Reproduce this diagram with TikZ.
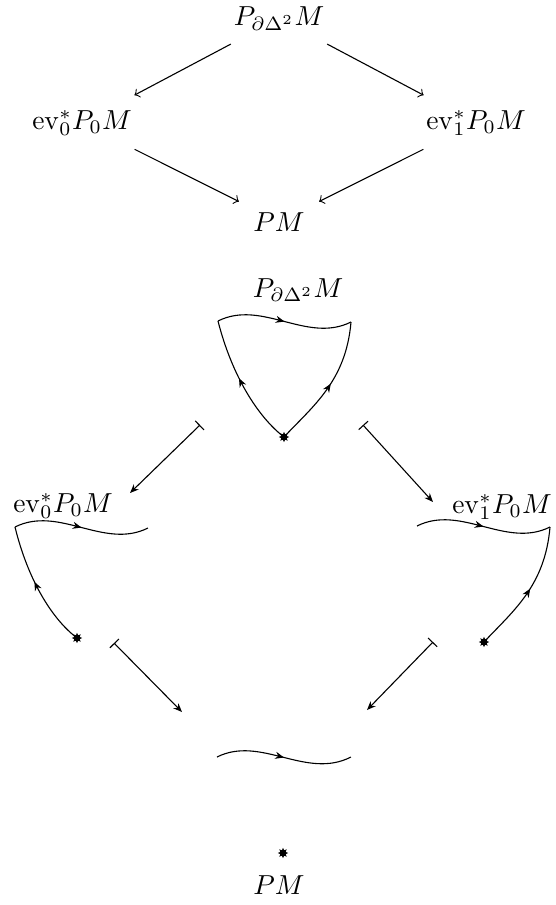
\documentclass[tikz,border=0pt]{standalone}
\usetikzlibrary{arrows.meta,decorations.markings,shapes.geometric}
\begin{document}
\begin{tikzpicture}[x=0.3636pt,y=-0.3636pt,
  lbl/.style={anchor=base,inner sep=0pt},
  cdarrow/.style={-to,line width=0.4pt},
  maparrow/.style={{Bar[width=4.6pt]}-{Stealth[length=3.2pt,width=2.6pt]},line width=0.4pt},
  midarrow/.style={decoration={markings,mark=at position #1 with {\arrow{Stealth[length=3.2pt,width=2.6pt]}}},postaction={decorate}},
  curve/.style={line width=0.4pt},
  basept/.style={star,star points=8,star point ratio=1.8,fill,draw=none,inner sep=0pt,minimum size=3.8pt}
]
\useasboundingbox (0,0) rectangle (555,905);

% ---------- upper commutative square ----------
\node[lbl] (A) at (279,25.5) {$P_{\partial\Delta^2}M$};
\node[lbl] (B) at (82,129) {$\mathrm{ev}_0^*P_0M$};
\node[lbl] (C) at (476,129) {$\mathrm{ev}_1^*P_0M$};
\node[lbl] (D) at (279,231) {$PM$};
\draw[cdarrow,shorten <=10.2pt,shorten >=11.1pt] (A) -- (B);
\draw[cdarrow,shorten <=10.2pt,shorten >=11.1pt] (A) -- (C);
\draw[cdarrow,shorten <=10.5pt,shorten >=8.2pt] (B) -- (D);
\draw[cdarrow,shorten <=10.5pt,shorten >=8.2pt] (C) -- (D);

% ---------- lower pictured square ----------
\node[lbl] (A2) at (298,297) {$P_{\partial\Delta^2}M$};
\node[lbl] (B2) at (63,512) {$\mathrm{ev}_0^*P_0M$};
\node[lbl] (C2) at (502,513) {$\mathrm{ev}_1^*P_0M$};
\node[lbl] (D2) at (279,894) {$PM$};

% top cell: the full boundary of the 2-simplex
\begin{scope}[shift={(218,321)}]
  \coordinate (tL) at (0,0);
  \coordinate (tR) at (133,1);
  \node[basept] (tS) at (66,116) {};
  \draw[curve,midarrow=0.5] (tL) .. controls (44,-22) and (89,23) .. (tR);
  \draw[curve,midarrow=0.55] (tS.center) .. controls (40,96) and (14,55) .. (tL);
  \draw[curve,midarrow=0.52] (tS.center) .. controls (95,85) and (128,60) .. (tR);
\end{scope}

% left cell
\begin{scope}[shift={(15,527)}]
  \coordinate (lL) at (0,0);
  \coordinate (lR) at (133,1);
  \node[basept] (lS) at (62,111) {};
  \draw[curve,midarrow=0.5] (lL) .. controls (44,-22) and (89,23) .. (lR);
  \draw[curve,midarrow=0.55] (lS.center) .. controls (37,92) and (13,53) .. (lL);
\end{scope}

% right cell
\begin{scope}[shift={(417,526)}]
  \coordinate (rL) at (0,0);
  \coordinate (rR) at (133,1);
  \node[basept] (rS) at (67,116) {};
  \draw[curve,midarrow=0.5] (rL) .. controls (44,-22) and (89,23) .. (rR);
  \draw[curve,midarrow=0.52] (rS.center) .. controls (96,85) and (128,60) .. (rR);
\end{scope}

% bottom cell
\begin{scope}[shift={(217,757)}]
  \coordinate (bL) at (0,0);
  \coordinate (bR) at (134,0);
  \draw[curve,midarrow=0.5] (bL) .. controls (44,-22) and (89,23) .. (bR);
\end{scope}
\node[basept] (bS) at (283,853) {};

% maps-to arrows
\coordinate (m1s) at (200,425); \coordinate (m1e) at (130,493);
\coordinate (m2s) at (363,425); \coordinate (m2e) at (433,502);
\coordinate (m3s) at (114,643); \coordinate (m3e) at (182,712);
\coordinate (m4s) at (433,642); \coordinate (m4e) at (367,710);
\draw[maparrow] (m1s) -- (m1e);
\draw[maparrow] (m2s) -- (m2e);
\draw[maparrow] (m3s) -- (m3e);
\draw[maparrow] (m4s) -- (m4e);
\end{tikzpicture}
\end{document}
